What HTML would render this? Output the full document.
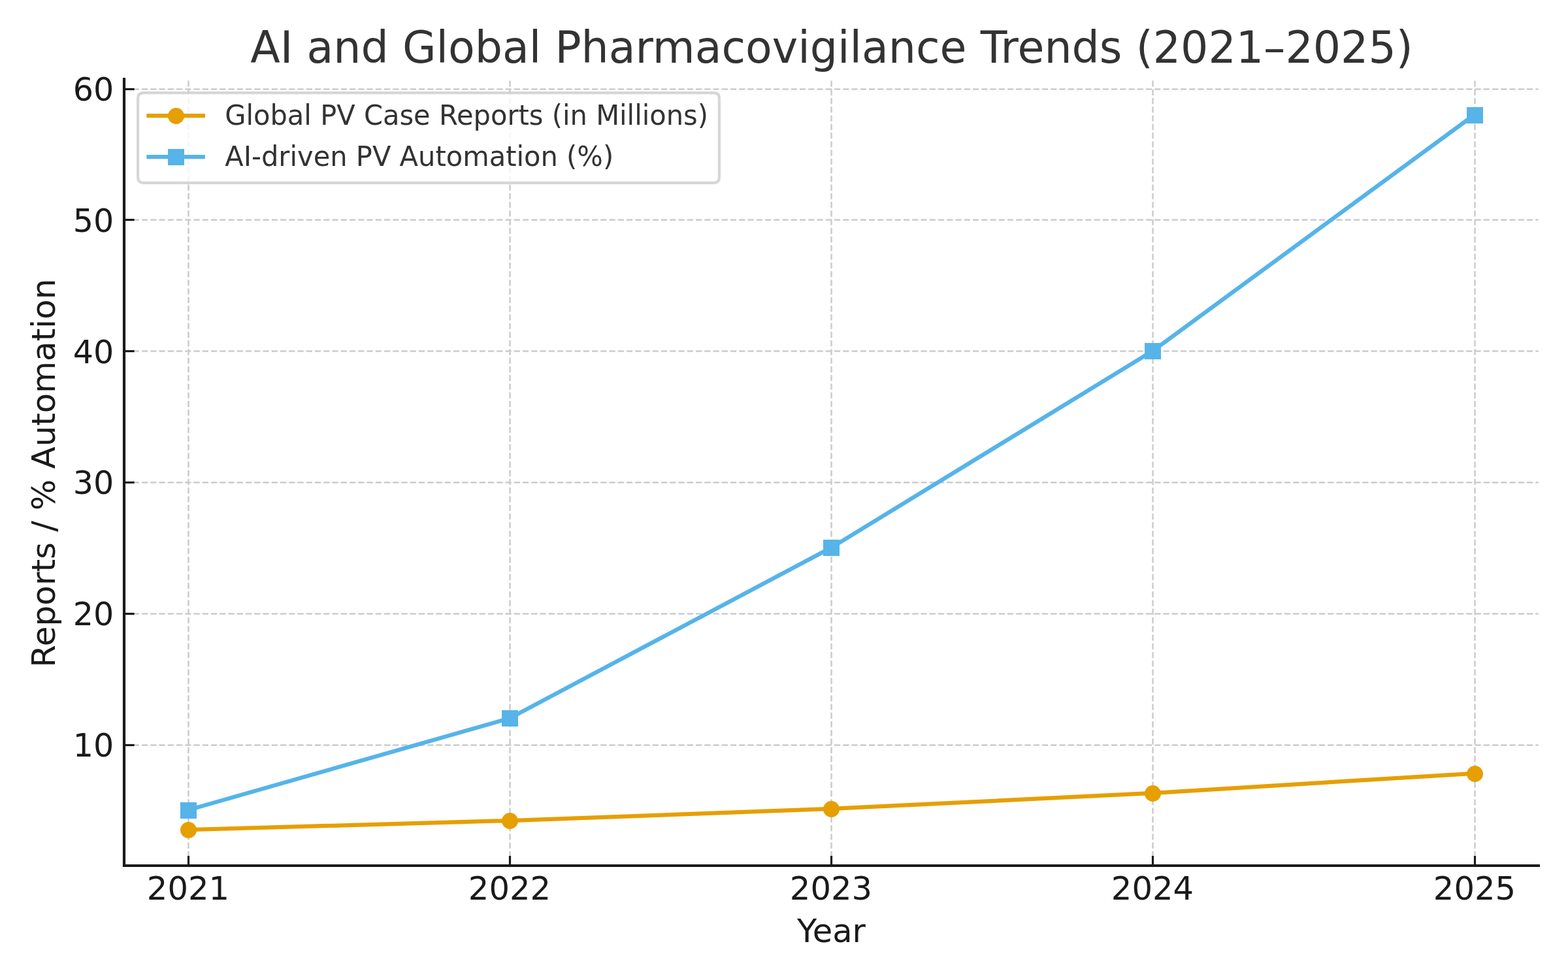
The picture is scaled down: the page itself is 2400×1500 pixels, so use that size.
<!DOCTYPE html>
<html lang="en">
<head>
<meta charset="utf-8">
<title>AI and Global Pharmacovigilance Trends (2021–2025)</title>
<style>
html,body{margin:0;padding:0;background:#ffffff;}
body{width:2400px;height:1500px;overflow:hidden;}
svg{display:block;}
text{font-family:"DejaVu Sans", "Liberation Sans", sans-serif;font-weight:400;font-style:normal;}
.tick{font-size:50px;fill:#1a1a1a;}
.lab{font-size:50px;fill:#1a1a1a;}
.title{font-size:66.667px;fill:#333333;}
.leg{font-size:41.667px;fill:#333333;}
</style>
</head>
<body>
<svg width="2400" height="1500" viewBox="0 0 2400 1500" role="img" aria-label="AI and Global Pharmacovigilance Trends (2021–2025)">
<rect x="0" y="0" width="2400" height="1500" fill="#ffffff"/>
<g id="grid" fill="none" stroke="#cccccc" stroke-width="2.5" stroke-dasharray="9.25 4">
<path d="M288.50 1325.3V121.5"/>
<path d="M780.50 1325.3V121.5"/>
<path d="M1272.50 1325.3V121.5"/>
<path d="M1764.50 1325.3V121.5"/>
<path d="M2257.50 1325.3V121.5"/>
<path d="M190.45 1140.50H2354.8"/>
<path d="M190.45 939.50H2354.8"/>
<path d="M190.45 738.50H2354.8"/>
<path d="M190.45 537.50H2354.8"/>
<path d="M190.45 336.50H2354.8"/>
<path d="M190.45 136.50H2354.8"/>
</g>
<g id="series-reports">
<polyline points="287.65,1270.07 779.90,1256.01 1272.15,1237.94 1764.40,1213.85 2256.65,1183.73" fill="none" stroke="#E69F00" stroke-width="6.25" stroke-linejoin="round" stroke-linecap="square"/>
<g fill="#E69F00">
<circle cx="288.5" cy="1270.5" r="12.5"/>
<circle cx="780.5" cy="1256.5" r="12.5"/>
<circle cx="1272.5" cy="1238.5" r="12.5"/>
<circle cx="1764.5" cy="1214.5" r="12.5"/>
<circle cx="2257.5" cy="1184.5" r="12.5"/>
</g>
</g>
<g id="series-automation">
<polyline points="287.65,1239.95 779.90,1099.39 1272.15,838.35 1764.40,537.15 2256.65,175.71" fill="none" stroke="#56B4E9" stroke-width="6.25" stroke-linejoin="round" stroke-linecap="square"/>
<g fill="#56B4E9">
<rect x="276.0" y="1228.0" width="25" height="25"/>
<rect x="768.0" y="1087.0" width="25" height="25"/>
<rect x="1260.0" y="826.0" width="25" height="25"/>
<rect x="1752.0" y="525.0" width="25" height="25"/>
<rect x="2245.0" y="164.0" width="25" height="25"/>
</g>
</g>
<g id="ticks" fill="none" stroke="#1a1a1a" stroke-width="3.2">
<path d="M288.50 1325V1310"/>
<path d="M780.50 1325V1310"/>
<path d="M1272.50 1325V1310"/>
<path d="M1764.50 1325V1310"/>
<path d="M2257.50 1325V1310"/>
<path d="M190 1140.50H205.6"/>
<path d="M190 939.50H205.6"/>
<path d="M190 738.50H205.6"/>
<path d="M190 537.50H205.6"/>
<path d="M190 336.50H205.6"/>
<path d="M190 136.50H205.6"/>
</g>
<g id="spines" fill="none" stroke="#1a1a1a" stroke-width="4.17">
<path d="M190 1327V119"/>
<path d="M187.92 1325H2357"/>
</g>
<g id="xticklabels" class="tick" text-anchor="middle">
<text transform="translate(288.00 1376.50) scale(0.9930 1)">2021</text>
<text transform="translate(780.00 1376.50) scale(0.9930 1)">2022</text>
<text transform="translate(1272.00 1376.50) scale(0.9930 1)">2023</text>
<text transform="translate(1764.00 1376.50) scale(0.9930 1)">2024</text>
<text transform="translate(2257.00 1376.50) scale(0.9930 1)">2025</text>
</g>
<g id="yticklabels" class="tick" text-anchor="end">
<text transform="translate(174.20 154.00) scale(0.9830 1)">60</text>
<text transform="translate(174.20 355.00) scale(0.9830 1)">50</text>
<text transform="translate(174.20 556.00) scale(0.9830 1)">40</text>
<text transform="translate(174.20 756.00) scale(0.9830 1)">30</text>
<text transform="translate(174.20 957.00) scale(0.9830 1)">20</text>
<text transform="translate(174.20 1158.00) scale(0.9830 1)">10</text>
</g>
<text class="lab" text-anchor="middle" transform="translate(1272.50 1442.00) scale(0.9900 1)">Year</text>
<text class="lab" text-anchor="middle" transform="translate(84.00 724.10) rotate(-90) scale(1.0007 1)">Reports / % Automation</text>
<text class="title" text-anchor="middle" transform="translate(1273.00 96.00) scale(0.9988 1.0185)">AI and Global Pharmacovigilance Trends (2021–2025)</text>
<g id="legend">
<path d="M219.43 142.10H1092.57Q1100.90 142.10 1100.90 150.43V271.57Q1100.90 279.90 1092.57 279.90H219.43Q211.10 279.90 211.10 271.57V150.43Q211.10 142.10 219.43 142.10Z" fill="#ffffff" fill-opacity="0.8" stroke="#cccccc" stroke-opacity="0.8" stroke-width="4.17" stroke-linejoin="miter"/>
<path d="M227.5 177H310.8" fill="none" stroke="#E69F00" stroke-width="6.25" stroke-linecap="square"/>
<circle cx="269.5" cy="177.5" r="12.5" fill="#E69F00"/>
<path d="M227.5 240H310.8" fill="none" stroke="#56B4E9" stroke-width="6.25" stroke-linecap="square"/>
<rect x="257" y="228" width="25" height="25" fill="#56B4E9"/>
<text class="leg" transform="translate(344.20 191.00) scale(0.9986 1.0250)">Global PV Case Reports (in Millions)</text>
<text class="leg" transform="translate(344.20 254.00) scale(0.9986 1.0250)">AI-driven PV Automation (%)</text>
</g>
</svg>
</body>
</html>
